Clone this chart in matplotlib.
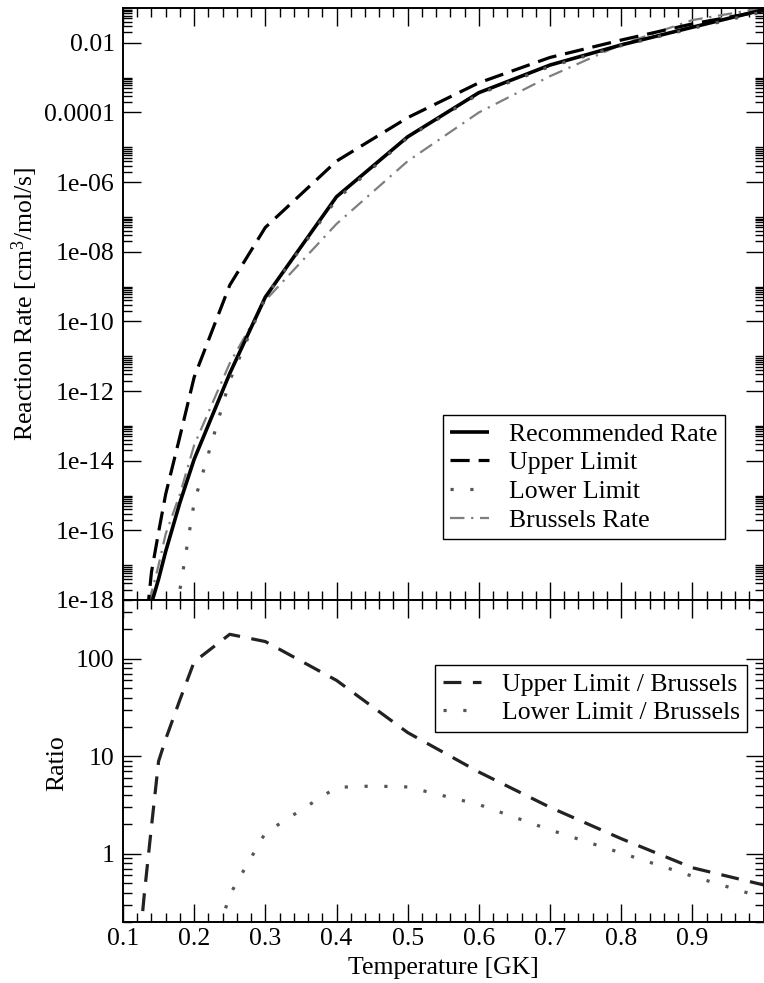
import numpy as np
import matplotlib
matplotlib.use("Agg")
import matplotlib.pyplot as plt
from matplotlib.ticker import FixedLocator, FixedFormatter, LogLocator, NullFormatter, MultipleLocator

plt.rcParams['font.family'] = ['Liberation Serif', 'DejaVu Serif']
plt.rcParams['mathtext.fontset'] = 'custom'
plt.rcParams['mathtext.rm'] = 'Liberation Serif'
plt.rcParams['mathtext.it'] = 'Liberation Serif:italic'

# reaction rates [cm3/mol/s] vs temperature [GK]
T_rate = [0.13, 0.14, 0.15, 0.16, 0.18, 0.2, 0.25, 0.3, 0.4, 0.5, 0.6, 0.7, 0.8, 0.9, 1.0]
recommended = [1.0e-20, 7.9e-19, 4.0e-18, 2.5e-17, 6.3e-16, 1.1e-14, 3.2e-12, 5.0e-10,
               3.8e-07, 2.0e-05, 3.7e-04, 2.3e-03, 8.7e-03, 2.8e-02, 8.9e-02]
upper = [6.3e-20, 6.3e-18, 8.9e-17, 1.1e-15, 5.0e-14, 2.5e-12, 1.1e-09, 5.0e-08,
         4.0e-06, 7.1e-05, 7.1e-04, 3.8e-03, 1.2e-02, 3.5e-02, 8.3e-02]
brussels = [1.6e-20, 1.6e-18, 1.0e-17, 7.9e-17, 1.1e-15, 2.8e-14, 6.3e-12, 4.0e-10,
            6.3e-08, 4.0e-06, 1.0e-04, 1.1e-03, 8.9e-03, 4.5e-02, 1.0e-01]
T_lower = [0.16, 0.18, 0.2, 0.25, 0.3, 0.4, 0.5, 0.6, 0.7, 0.8, 0.9, 1.0]
lower = [3.2e-21, 2.0e-18, 6.3e-16, 2.0e-12, 5.0e-10, 3.2e-07, 1.9e-05, 3.4e-04,
         2.1e-03, 8.3e-03, 2.6e-02, 7.9e-02]

# ratios to the Brussels rate
T_ratio_up = [0.12, 0.13, 0.14, 0.15, 0.16, 0.18, 0.2, 0.25, 0.3, 0.4, 0.5, 0.6, 0.7, 0.8, 0.9, 1.0]
ratio_up = [0.065, 0.39, 1.9, 8.9, 15, 38, 93, 178, 150, 60, 17.5, 6.9, 3.0, 1.43, 0.72, 0.48]
T_ratio_lo = [0.2, 0.25, 0.3, 0.4, 0.45, 0.5, 0.6, 0.7, 0.8, 0.9, 1.0]
ratio_lo = [0.025, 0.38, 1.64, 4.8, 4.95, 4.85, 3.2, 1.76, 1.02, 0.59, 0.355]

rate_ticks = [1e-18, 1e-16, 1e-14, 1e-12, 1e-10, 1e-08, 1e-06, 1e-04, 1e-02]
rate_labels = ['1e-18', '1e-16', '1e-14', '1e-12', '1e-10', '1e-08', '1e-06', '0.0001', '0.01']
x_ticks = [0.1, 0.2, 0.3, 0.4, 0.5, 0.6, 0.7, 0.8, 0.9, 1.0]
x_labels = ['0.1', '0.2', '0.3', '0.4', '0.5', '0.6', '0.7', '0.8', '0.9', '']

W, H = 764, 983
fig = plt.figure(figsize=(W / 100, H / 100), dpi=100)
L, R = 123, 763.5
ax1 = fig.add_axes([L / W, 1 - 600 / H, (R - L) / W, (600 - 8) / H])
ax2 = fig.add_axes([L / W, 1 - 922 / H, (R - L) / W, (922 - 600) / H])

fs = 18.5
lw = 2.3

ax1.plot(T_rate, recommended, color='black', lw=lw + 0.3, solid_capstyle='butt',
         label='Recommended Rate', zorder=4)
ax1.plot(T_rate, upper, color='black', lw=lw, dashes=(6, 2.8), label='Upper Limit', zorder=3)
ax1.plot(T_lower, lower, color='#555555', lw=lw, dashes=(1, 5.2), label='Lower Limit', zorder=5)
ax1.plot(T_rate, brussels, color='#7f7f7f', lw=1.6, dashes=(6.5, 3, 1, 3), label='Brussels Rate', zorder=2)

ax2.plot(T_ratio_up, ratio_up, color='#222222', lw=lw, dashes=(5.6, 3.6), label='Upper Limit / Brussels')
ax2.plot(T_ratio_lo, ratio_lo, color='#555555', lw=lw, dashes=(1, 5.2), label='Lower Limit / Brussels')

for ax in (ax1, ax2):
    ax.set_xlim(0.1, 1.0)
    ax.set_yscale('log')
    ax.xaxis.set_major_locator(FixedLocator(x_ticks))
    ax.xaxis.set_minor_locator(MultipleLocator(0.02))
    ax.tick_params(which='both', direction='in', top=True, right=True, width=1, labelsize=fs)
    ax.tick_params(which='major', length=13, pad=6)
    ax.tick_params(which='minor', length=6.5)
    for s in ax.spines.values():
        s.set_linewidth(1.4)

ax1.set_ylim(1e-18, 0.1)
ax1.yaxis.set_major_locator(FixedLocator(rate_ticks))
ax1.yaxis.set_major_formatter(FixedFormatter(rate_labels))
minors = [k * 10.0 ** e for e in range(-18, 0, 2) for k in range(2, 11)]
ax1.yaxis.set_minor_locator(FixedLocator(minors))
ax1.yaxis.set_minor_formatter(NullFormatter())
ax1.set_xticklabels([])

ax2.set_ylim(0.2, 400)
ax2.yaxis.set_major_locator(FixedLocator([1, 10, 100]))
ax2.yaxis.set_major_formatter(FixedFormatter(['1', '10', '100']))
ax2.yaxis.set_minor_locator(LogLocator(base=10, subs=range(2, 10), numticks=20))
ax2.yaxis.set_minor_formatter(NullFormatter())
ax2.set_xticklabels(x_labels)
ax2.tick_params(axis='x', which='major', pad=4)

leg1 = ax1.legend(loc='upper left', bbox_to_anchor=(0.499, 0.3125), borderaxespad=0,
                  fontsize=fs, frameon=True, fancybox=False, framealpha=1, edgecolor='black',
                  handlelength=1.5, handletextpad=0.8, labelspacing=0.22, borderpad=0.3)
leg1.get_frame().set_linewidth(1)
leg2 = ax2.legend(loc='upper left', bbox_to_anchor=(0.487, 0.798), borderaxespad=0,
                  fontsize=fs, frameon=True, fancybox=False, framealpha=1, edgecolor='black',
                  handlelength=1.5, handletextpad=0.8, labelspacing=0.22, borderpad=0.3)
leg2.get_frame().set_linewidth(1)

fig.text(25 / W, 1 - 304 / H, 'Reaction Rate [cm$^{3}$/mol/s]', rotation=90,
         ha='center', va='center', fontsize=fs)
fig.text(57 / W, 1 - 763 / H, 'Ratio', rotation=90, ha='center', va='center', fontsize=fs)
fig.text(443 / W, 1 - 968 / H, 'Temperature [GK]', ha='center', va='center', fontsize=fs)

fig.savefig('out.png', dpi=100)
